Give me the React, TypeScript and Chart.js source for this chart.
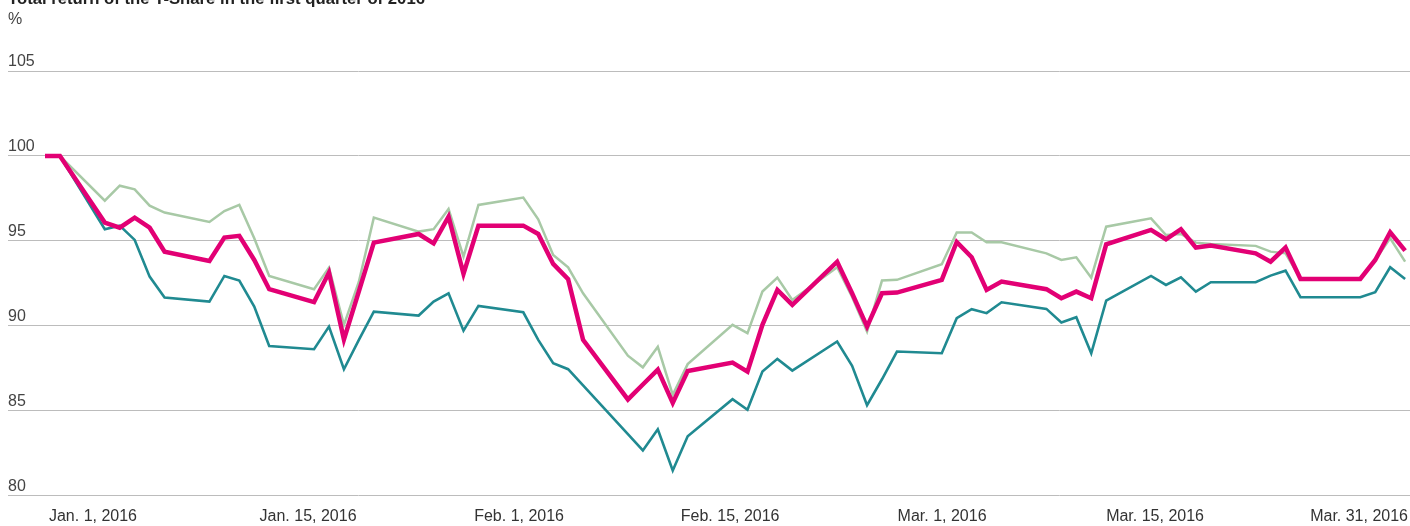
import React, { useEffect, useRef } from "react";
import { Chart, registerables } from "chart.js";

Chart.register(...registerables);

// Day offsets from Dec. 31, 2015 (weekdays only)
const tradingDays = [
  0, 1, 4, 5, 6, 7, 8, 11, 12, 13, 14, 15, 18, 19, 20, 21, 22, 25, 26, 27, 28, 29,
  32, 33, 34, 35, 36, 39, 40, 41, 42, 43, 46, 47, 48, 49, 50, 53, 54, 55, 56, 57,
  60, 61, 62, 63, 64, 67, 68, 69, 70, 71, 74, 75, 76, 77, 78, 81, 82, 83, 84, 85,
  88, 89, 90, 91,
];

const tShare = [
  100, 100, 96.08, 95.78, 96.37, 95.78, 94.37, 93.82, 95.2, 95.3, 93.88, 92.16,
  91.4, 93.14, 89.2, 92.04, 94.9, 95.41, 94.86, 96.43, 93.06, 95.9,
  95.9, 95.41, 93.65, 92.75, 89.18, 85.67, 86.55, 87.43, 85.47, 87.34,
  87.84, 87.31, 90.06, 92.12, 91.24, 93.78, 91.92, 89.96, 91.92, 91.96,
  92.71, 94.94, 94.04, 92.12, 92.61, 92.16, 91.63, 92.02, 91.63, 94.8,
  95.65, 95.1, 95.69, 94.61, 94.73, 94.27, 93.78, 94.61, 92.76, 92.76,
  92.76, 93.88, 95.51, 94.43,
];

const dax = [
  100, 100, 97.37, 98.25, 98.04, 97.08, 96.67, 96.12, 96.76, 97.12, 95.16, 92.94,
  92.16, 93.43, 90.06, 92.6, 96.37, 95.55, 95.69, 96.88, 94.08, 97.12,
  97.55, 96.27, 94.18, 93.45, 91.92, 88.25, 87.56, 88.77, 85.94, 87.75,
  90.06, 89.57, 92.02, 92.84, 91.53, 93.45, 91.7, 89.67, 92.67, 92.71,
  93.63, 95.5, 95.5, 94.92, 94.92, 94.27, 93.88, 94.04, 92.84, 95.84,
  96.33, 95.35, 95.41, 94.9, 94.82, 94.71, 94.37, 94.27, 92.76, 92.76,
  92.76, 93.88, 95.16, 93.78,
];

const stoxxTelecom = [
  100, 100, 95.69, 95.9, 95.06, 92.9, 91.67, 91.43, 92.94, 92.67, 91.14, 88.82,
  88.63, 89.96, 87.45, 89.18, 90.84, 90.61, 91.43, 91.92, 89.72, 91.18,
  90.8, 89.18, 87.8, 87.45, 86.5, 83.63, 82.67, 83.92, 81.49, 83.5,
  85.69, 85.06, 87.31, 88.06, 87.37, 89.08, 87.65, 85.33, 86.86, 88.49,
  88.39, 90.45, 90.98, 90.75, 91.39, 91.0, 90.2, 90.51, 88.39, 91.49,
  92.94, 92.41, 92.86, 92.02, 92.57, 92.57, 92.96, 93.25, 91.69, 91.69,
  91.69, 91.98, 93.45, 92.76,
];

const xTickDays = [3.21, 17.6, 31.72, 45.84, 60.02, 74.27, 87.92];
const xTickLabels = [
  "Jan. 1, 2016",
  "Jan. 15, 2016",
  "Feb. 1, 2016",
  "Feb. 15, 2016",
  "Mar. 1, 2016",
  "Mar. 15, 2016",
  "Mar. 31, 2016",
];

const titleText = "Total return of the T-Share in the first quarter of 2016";
const unitText = "%";

const toPoints = (vals: number[]) => tradingDays.map((d, i) => ({ x: d, y: vals[i] }));

export default function App() {
  const ref = useRef<HTMLCanvasElement | null>(null);

  useEffect(() => {
    if (!ref.current) return;
    Chart.defaults.font.family = "'Liberation Sans', Arial, sans-serif";
    const chart = new Chart(ref.current, {
      type: "line",
      data: {
        datasets: [
          {
            label: "T-Share",
            data: toPoints(tShare),
            borderColor: "#e20074",
            borderWidth: 4.5,
          },
          {
            label: "DAX",
            data: toPoints(dax),
            borderColor: "#a8c9a6",
            borderWidth: 2.5,
          },
          {
            label: "Dow Jones Europe STOXX 600 Telecommunications",
            data: toPoints(stoxxTelecom),
            borderColor: "#208a91",
            borderWidth: 2.6,
          },
        ],
      },
      options: {
        animation: false,
        responsive: true,
        maintainAspectRatio: false,
        events: [],
        elements: {
          point: { radius: 0 },
          line: { tension: 0, fill: false },
        },
        layout: { padding: { left: 8, right: 0, top: 0, bottom: 0 } },
        plugins: {
          legend: { display: false },
          tooltip: { enabled: false },
          title: {
            display: true,
            text: titleText,
            align: "start",
            color: "#222",
            font: { size: 16.7, weight: "bold" },
            padding: { top: 0, bottom: 0 },
          },
          subtitle: {
            display: true,
            text: unitText,
            align: "start",
            color: "#444",
            font: { size: 16 },
            padding: { top: 1.2, bottom: 41.6 },
          },
        },
        scales: {
          x: {
            type: "linear",
            min: -2.476,
            max: 91.33,
            grid: { display: false, drawTicks: false },
            border: { display: false },
            afterBuildTicks: (scale: any) => {
              scale.ticks = xTickDays.map((v) => ({ value: v }));
            },
            ticks: {
              autoSkip: false,
              maxRotation: 0,
              minRotation: 0,
              padding: 11,
              color: "#333",
              font: { size: 16 },
              callback: (_v: any, i: number) => xTickLabels[i],
            },
          },
          y: {
            min: 80,
            max: 105,
            grid: { color: "#bcbcbc", lineWidth: 1, drawTicks: false },
            border: { display: false },
            ticks: {
              stepSize: 5,
              mirror: true,
              padding: 0,
              labelOffset: -9,
              color: "#444",
              font: { size: 16 },
            },
          },
        },
      },
    } as any);
    return () => chart.destroy();
  }, []);

  return (
    <div style={{ position: "absolute", left: 0, top: 0, width: 1410, height: 526, overflow: "hidden" }}>
      <div style={{ position: "absolute", left: 0, top: -11, width: 1419, height: 548 }}>
        <canvas ref={ref} />
      </div>
    </div>
  );
}
